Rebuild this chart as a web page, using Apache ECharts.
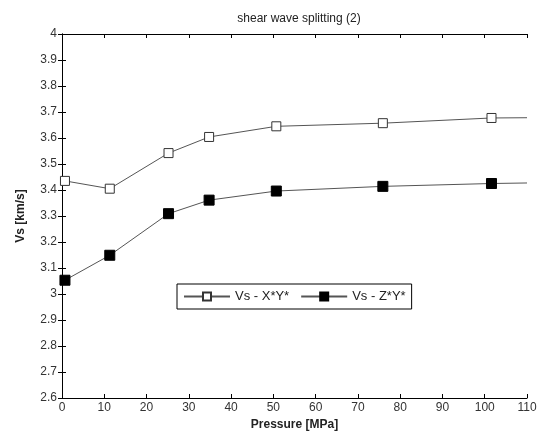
<!DOCTYPE html>
<html>
<head>
<meta charset="utf-8">
<script src="https://cdn.jsdelivr.net/npm/echarts@6/dist/echarts.min.js"></script>
<style>
  html, body { margin: 0; padding: 0; background: #fff; }
  #chart { width: 547px; height: 442px; }
</style>
</head>
<body>
<div id="chart"></div>
<script>
// Measured pressures (MPa) and shear-wave velocities (km/s)
const pressure = [0.7, 11.3, 25.2, 34.8, 50.7, 75.9, 101.6];
const vsXY = [3.435, 3.405, 3.542, 3.604, 3.645, 3.657, 3.677];
const vsZY = [3.053, 3.149, 3.309, 3.361, 3.396, 3.414, 3.425];
// Curve continuation to the right edge of the axes (no marker drawn)
const edgePressure = 110;
const edgeXY = 3.678;
const edgeZY = 3.427;

const seriesNames = ['Vs - X*Y*', 'Vs - Z*Y*'];
const titleText = 'shear wave splitting (2)';
const xName = 'Pressure [MPa]';
const yName = 'Vs [km/s]';

const font = 'Liberation Sans, Arial, Helvetica, sans-serif';

function buildData(xs, ys, ex, ey) {
  const d = xs.map((x, i) => [x, ys[i]]);
  d.push({ value: [ex, ey], symbol: 'none' });
  return d;
}

const chart = echarts.init(document.getElementById('chart'), null, { renderer: 'canvas' });

const axisLine = { show: true, lineStyle: { color: '#000', width: 1 } };
const axisTick = { show: true, inside: true, length: 4, lineStyle: { color: '#000', width: 1 } };

chart.setOption({
  animation: false,
  backgroundColor: '#fff',
  textStyle: { fontFamily: font },
  title: {
    text: titleText,
    left: 294,
    textAlign: 'center',
    top: 8,
    textStyle: { fontFamily: font, fontSize: 12, fontWeight: 'normal', color: '#222' }
  },
  grid: { left: 62, right: 20, top: 34, bottom: 44, containLabel: false },
  legend: {
    left: 177,
    top: 284,
    orient: 'horizontal',
    padding: [6, 6, 6, 6],
    itemGap: 11,
    itemWidth: 46,
    itemHeight: 10,
    borderColor: '#000',
    borderWidth: 1,
    backgroundColor: '#fff',
    textStyle: { fontFamily: font, fontSize: 13, color: '#222' },
    data: seriesNames
  },
  xAxis: [
    {
      type: 'value', min: 0, max: 110, interval: 10, position: 'bottom',
      name: xName, nameLocation: 'middle', nameGap: 19,
      nameTextStyle: { fontFamily: font, fontSize: 12, fontWeight: 'bold', color: '#222' },
      axisLine, axisTick,
      axisLabel: { fontFamily: font, fontSize: 12, color: '#333', margin: 4 },
      splitLine: { show: false }
    },
    {
      type: 'value', min: 0, max: 110, interval: 10, position: 'top',
      axisLine, axisTick, axisLabel: { show: false }, splitLine: { show: false }
    }
  ],
  yAxis: [
    {
      type: 'value', min: 2.6, max: 4, interval: 0.1, position: 'left',
      name: yName, nameLocation: 'middle', nameGap: 35, nameRotate: 90,
      nameTextStyle: { fontFamily: font, fontSize: 12, fontWeight: 'bold', color: '#222' },
      axisLine, axisTick,
      axisLabel: { fontFamily: font, fontSize: 12, color: '#333', margin: 5 },
      splitLine: { show: false }
    },
    {
      type: 'value', min: 2.6, max: 4, interval: 0.1, position: 'right',
      axisLine, axisTick, axisLabel: { show: false }, splitLine: { show: false }
    }
  ],
  series: [
    {
      name: seriesNames[0],
      type: 'line',
      xAxisIndex: 0, yAxisIndex: 0,
      data: buildData(pressure, vsXY, edgePressure, edgeXY),
      symbol: 'rect',
      symbolSize: 9,
      showSymbol: true,
      lineStyle: { color: '#555', width: 1 },
      itemStyle: { color: '#fff', borderColor: '#333', borderWidth: 1 },
      emphasis: { disabled: true }
    },
    {
      name: seriesNames[1],
      type: 'line',
      xAxisIndex: 0, yAxisIndex: 0,
      data: buildData(pressure, vsZY, edgePressure, edgeZY),
      symbol: 'rect',
      symbolSize: 10,
      showSymbol: true,
      lineStyle: { color: '#555', width: 1 },
      itemStyle: { color: '#000', borderColor: '#000', borderWidth: 1 },
      emphasis: { disabled: true }
    }
  ]
});
</script>
</body>
</html>
